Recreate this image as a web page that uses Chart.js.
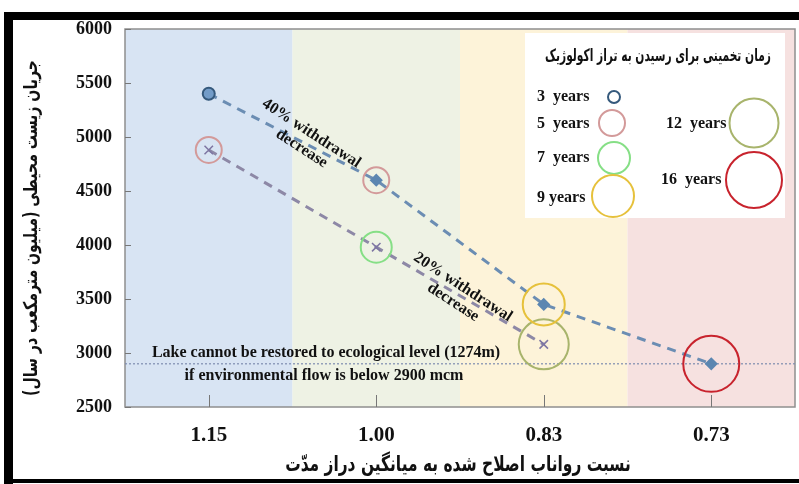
<!DOCTYPE html>
<html><head><meta charset="utf-8">
<script src="https://cdn.jsdelivr.net/npm/chart.js@4.4.1/dist/chart.umd.min.js"></script>
<style>html,body{margin:0;padding:0;background:#fff;}#c{display:block}</style>
</head><body>
<canvas id="c" width="799" height="484"></canvas>
<script>
// ---- data ----
const categories = ['1.15', '1.00', '0.83', '0.73'];
const flow40 = [5400, 4600, 3450, 2900];      // 40% withdrawal decrease
const flow20 = [4880, 3980, 3080, null];      // 20% withdrawal decrease
const years3 = [5400, null, null, null];
const years5 = [4880, 4600, null, null];
const years7 = [null, 3980, null, null];
const years9 = [null, null, 3450, null];
const years12 = [null, null, 3080, null];
const years16 = [null, null, null, 2900];
const yMin = 2500, yMax = 6000, yStep = 500;
const thresholdFlow = 2900;
const yTitle = 'جریان زیست محیطی (میلیون مترمکعب در سال)';
const xTitle = 'نسبت رواناب اصلاح شده به میانگین دراز مدّت';
const legendTitle = 'زمان تخمینی برای رسیدن به تراز اکولوژیک';
const legendLabels = ['3  years', '5  years', '7  years', '9 years', '12  years', '16  years'];
const lakeText = ['Lake cannot be restored to ecological level (1274m)', 'if environmental flow is below 2900 mcm'];
const note40 = ['40% withdrawal', 'decrease'];
const note20 = ['20% withdrawal', 'decrease'];

const SERIF = '"Liberation Serif", "Times New Roman", serif';
const ARAB = '"DejaVu Sans", sans-serif';
const bandColors = ['#d8e4f3', '#eef2e4', '#fdf3d9', '#f6e1e0'];
const C = {y3:'#35597c', y5:'#d39a9a', y7:'#86df86', y9:'#e6c13b', y12:'#a8b46c', y16:'#c8232d'};

function fitFont(ctx, text, weight, family, target, maxSize) {
  ctx.font = weight + ' ' + maxSize + 'px ' + family;
  const w = ctx.measureText(text).width;
  const size = Math.min(maxSize, maxSize * target / w);
  ctx.font = weight + ' ' + size + 'px ' + family;
  return size;
}
function persian(ctx, text, x, y, width, weight, sy) {
  ctx.save();
  ctx.direction = 'rtl';
  ctx.textAlign = 'center'; ctx.textBaseline = 'middle';
  ctx.translate(x, y);
  ctx.scale(1, sy);
  fitFont(ctx, text, weight, ARAB, width, 40);
  ctx.fillText(text, 0, 0);
  ctx.restore();
}

const decor = {
  id: 'decor',
  beforeDraw(chart) {
    const ctx = chart.ctx;
    ctx.save();
    ctx.fillStyle = '#fff';
    ctx.fillRect(0, 0, chart.width, chart.height);
    ctx.fillStyle = '#000';
    ctx.fillRect(4, 12, chart.width - 4, 8);
    ctx.fillRect(4, 12, 9, chart.height - 12);
    ctx.fillRect(4, 479, chart.width - 4, 4);
    ctx.restore();
  },
  beforeDatasetsDraw(chart) {
    const ctx = chart.ctx, a = chart.chartArea;
    const xs = chart.scales.x, ys = chart.scales.y;
    const half = (a.right - a.left) / (categories.length * 2);
    ctx.save();
    categories.forEach((c, i) => {
      const cx = xs.getPixelForValue(i);
      ctx.fillStyle = bandColors[i];
      ctx.fillRect(cx - half, a.top, half * 2, a.bottom - a.top);
    });
    ctx.strokeStyle = '#8f8f8f';
    ctx.lineWidth = 1.5;
    ctx.strokeRect(a.left, a.top, a.right - a.left, a.bottom - a.top);
    ctx.strokeStyle = '#777';
    ctx.lineWidth = 1;
    categories.forEach((c, i) => {
      const cx = Math.round(xs.getPixelForValue(i)) + 0.5;
      ctx.beginPath(); ctx.moveTo(cx, a.bottom); ctx.lineTo(cx, a.bottom - 12); ctx.stroke();
    });
    for (let v = yMin; v <= yMax; v += yStep) {
      const y = Math.round(ys.getPixelForValue(v)) + 0.5;
      ctx.beginPath(); ctx.moveTo(a.left, y); ctx.lineTo(a.left + 6, y); ctx.stroke();
    }
    const ty = ys.getPixelForValue(thresholdFlow);
    ctx.strokeStyle = '#7d8cae';
    ctx.lineWidth = 1.2;
    ctx.setLineDash([2, 2]);
    ctx.beginPath(); ctx.moveTo(a.left, ty); ctx.lineTo(a.right, ty); ctx.stroke();
    ctx.setLineDash([]);
    ctx.fillStyle = '#111';
    ctx.textAlign = 'center'; ctx.textBaseline = 'middle';
    fitFont(ctx, lakeText[0], 'bold', SERIF, 362, 16);
    ctx.fillText(lakeText[0], 326, ty - 11);
    ctx.fillText(lakeText[1], 324, ty + 12);
    ctx.restore();
  },
  afterDatasetsDraw(chart) {
    const ctx = chart.ctx;
    const xs = chart.scales.x, ys = chart.scales.y;
    ctx.save();
    function note(lines, cx, cy, ang) {
      ctx.save();
      ctx.translate(cx, cy);
      ctx.rotate(ang * Math.PI / 180);
      ctx.fillStyle = '#111';
      ctx.font = 'bold 16px ' + SERIF;
      ctx.textAlign = 'center'; ctx.textBaseline = 'middle';
      ctx.fillText(lines[0], 0, -9);
      ctx.fillText(lines[1], 0, 9);
      ctx.restore();
    }
    const m40x = (xs.getPixelForValue(0) + xs.getPixelForValue(1)) / 2;
    const m40y = (ys.getPixelForValue(flow40[0]) + ys.getPixelForValue(flow40[1])) / 2;
    note(note40, m40x + 14, m40y + 4, 33);
    const m20x = (xs.getPixelForValue(1) + xs.getPixelForValue(2)) / 2;
    const m20y = (ys.getPixelForValue(flow20[1]) + ys.getPixelForValue(flow20[2])) / 2;
    note(note20, m20x - 2, m20y - 1, 33);

    ctx.fillStyle = '#fff';
    ctx.fillRect(525, 33, 260, 185);
    ctx.fillStyle = '#111';
    persian(ctx, legendTitle, 658, 57, 226, 'bold', 1.6);
    ctx.font = 'bold 16px ' + SERIF;
    ctx.textAlign = 'left'; ctx.textBaseline = 'middle';
    const items = [
      [legendLabels[0], 537, 97, 614, 97, 6, C.y3],
      [legendLabels[1], 537, 124, 612, 123, 13, C.y5],
      [legendLabels[2], 537, 158, 614, 158, 16, C.y7],
      [legendLabels[3], 537, 198, 613, 196, 21, C.y9],
      [legendLabels[4], 666, 124, 754, 123, 24.5, C.y12],
      [legendLabels[5], 661, 180, 754, 180, 28, C.y16]
    ];
    items.forEach(it => {
      ctx.fillStyle = '#111';
      ctx.fillText(it[0], it[1], it[2]);
      ctx.beginPath();
      ctx.arc(it[3], it[4], it[5], 0, Math.PI * 2);
      ctx.strokeStyle = it[6];
      ctx.lineWidth = 2;
      ctx.stroke();
    });
    ctx.restore();
  },
  afterDraw(chart) {
    const ctx = chart.ctx;
    ctx.save();
    ctx.fillStyle = '#111';
    persian(ctx, xTitle, 458, 465, 346, 'bold', 1.4);
    ctx.translate(32, 228);
    ctx.rotate(-Math.PI / 2);
    persian(ctx, yTitle, 0, 0, 336, 'bold', 1.35);
    ctx.restore();
  }
};

function ring(label, data, r, color, fill) {
  return {
    label, data, showLine: false, pointStyle: 'circle',
    pointRadius: r, pointHoverRadius: r, pointBorderWidth: 2,
    pointBorderColor: color, pointBackgroundColor: fill || 'rgba(0,0,0,0)',
    borderColor: color, backgroundColor: 'rgba(0,0,0,0)', order: 1
  };
}

new Chart(document.getElementById('c'), {
  type: 'line',
  data: {
    labels: categories,
    datasets: [
      ring('3 years', years3, 6, C.y3, 'rgba(120,160,205,0.85)'),
      ring('5 years', years5, 13, C.y5),
      ring('7 years', years7, 15.5, C.y7),
      ring('9 years', years9, 21, C.y9),
      ring('12 years', years12, 25, C.y12),
      ring('16 years', years16, 28, C.y16),
      {
        label: '40% withdrawal decrease', data: flow40, order: 2,
        borderColor: '#6b8db3', borderWidth: 3, borderDash: [9, 7],
        pointStyle: 'rectRot', pointRadius: 4.5, pointBackgroundColor: '#5b86b1',
        pointBorderColor: '#5b86b1', fill: false, tension: 0
      },
      {
        label: '20% withdrawal decrease', data: flow20, order: 2,
        borderColor: '#8d88a6', borderWidth: 3, borderDash: [9, 7],
        pointStyle: 'crossRot', pointRadius: 6, pointBorderWidth: 1.5,
        pointBorderColor: '#7e76a3', pointBackgroundColor: '#7e76a3', fill: false, tension: 0
      }
    ]
  },
  options: {
    responsive: false, animation: false, devicePixelRatio: 1,
    layout: { autoPadding: false, padding: { top: 29, right: 4, left: 0, bottom: 0 } },
    plugins: { legend: { display: false }, tooltip: { enabled: false } },
    scales: {
      x: {
        type: 'category', offset: true,
        grid: { display: false, drawTicks: false }, border: { display: false },
        ticks: { color: '#111', font: { family: SERIF, size: 21, weight: 'bold' }, padding: 16 },
        afterFit(s) { s.height = 77; s.paddingLeft = 0; s.paddingRight = 0; }
      },
      y: {
        min: yMin, max: yMax,
        grid: { display: false, drawTicks: false }, border: { display: false },
        ticks: { stepSize: yStep, color: '#111', font: { family: SERIF, size: 18, weight: 'bold' }, padding: 13,
                 callback: v => String(v) },
        afterFit(s) { s.width = 125; s.paddingTop = 0; s.paddingBottom = 0; }
      }
    }
  },
  plugins: [decor]
});
</script>
</body></html>
